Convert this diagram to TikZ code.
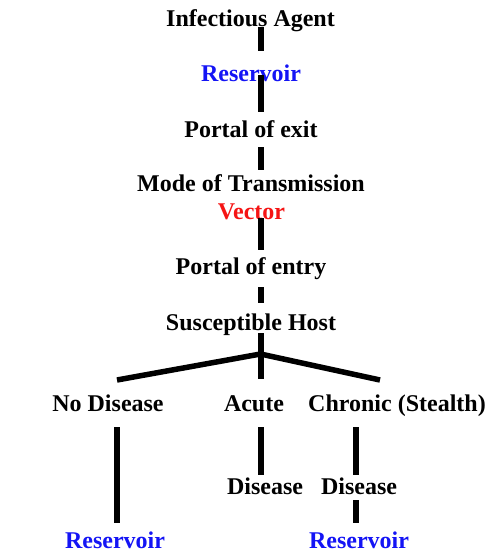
\documentclass[tikz,border=0pt]{standalone}
\usepackage{fontspec}
\setmainfont{Liberation Serif}
\usetikzlibrary{positioning,calc}
\definecolor{azul}{RGB}{20,20,245}
\definecolor{vermelho}{RGB}{245,20,20}

\begin{document}
\begin{tikzpicture}[x=1pt,y=-1pt,
    rotulo/.style={anchor=base,inner sep=0pt,text height=16pt,text depth=5pt,
      font=\fontsize{24}{28}\selectfont\bfseries},
    elo/.style={line width=6pt}]
    \useasboundingbox (0,0) rectangle (485,552);

    % Colunas das ligacoes
    \coordinate (tronco) at (260.5,0);
    \coordinate (colEsq) at (116.5,0);
    \coordinate (colDir) at (356,0);

    % Cadeia de infeccao
    \node[rotulo] (agente) at (250.5,26) {Infectious Agent};
    \node[rotulo,text=azul] (reserv) at (251,81) {Reservoir};
    \node[rotulo] (saida) at (251,137) {Portal of exit};
    \node[rotulo] (modo) at (251,191) {Mode of Transmission};
    \node[rotulo,text=vermelho] (vetor) at (251.5,219) {Vector};
    \node[rotulo] (entrada) at (251,274) {Portal of entry};
    \node[rotulo] (hosp) at (251,330) {Susceptible Host};

    % Desfechos
    \node[rotulo] (semDoenca) at (108,411) {No Disease};
    \node[rotulo] (aguda) at (254,411) {Acute};
    \node[rotulo] (cronica) at (397,411) {Chronic (Stealth)};
    \node[rotulo] (doenca1) at (265,494) {Disease};
    \node[rotulo] (doenca2) at (359,494) {Disease};
    \node[rotulo,text=azul] (reservEsq) at (115,548) {Reservoir};
    \node[rotulo,text=azul] (reservDir) at (359,548) {Reservoir};

    % Ligacoes da cadeia
    \draw[elo,shorten <=-4pt,shorten >=14pt] (agente.south -| tronco) -- (reserv.north -| tronco);
    \draw[elo,shorten <=-11pt,shorten >=9pt] (reserv.south -| tronco) -- (saida.north -| tronco);
    \draw[elo,shorten <=5pt,shorten >=5pt] (saida.south -| tronco) -- (modo.north -| tronco);
    \draw[elo,shorten <=-6pt,shorten >=8pt] (vetor.south -| tronco) -- (entrada.north -| tronco);
    \draw[elo,shorten <=8pt,shorten >=11pt] (entrada.south -| tronco) -- (hosp.north -| tronco);
    \draw[elo,shorten <=-2pt,shorten >=16pt] (hosp.south -| tronco) -- (aguda.north -| tronco);

    % Ramos
    \coordinate (ramo) at (260.5,354);
    \coordinate (fimEsq) at (117,380);
    \coordinate (fimDir) at (380,380);
    \draw[elo,line width=5.5pt] (fimEsq) -- (ramo) -- (fimDir);

    % Ligacoes dos desfechos
    \draw[elo,shorten <=11pt,shorten >=9pt] (semDoenca.south -| colEsq) -- (reservEsq.north -| colEsq);
    \draw[elo,shorten <=11pt,shorten >=3pt] (aguda.south -| tronco) -- (doenca1.north -| tronco);
    \draw[elo,shorten <=11pt,shorten >=3pt] (cronica.south -| colDir) -- (doenca2.north -| colDir);
    \draw[elo,shorten <=1pt,shorten >=9pt] (doenca2.south -| colDir) -- (reservDir.north -| colDir);
\end{tikzpicture}
\end{document}
